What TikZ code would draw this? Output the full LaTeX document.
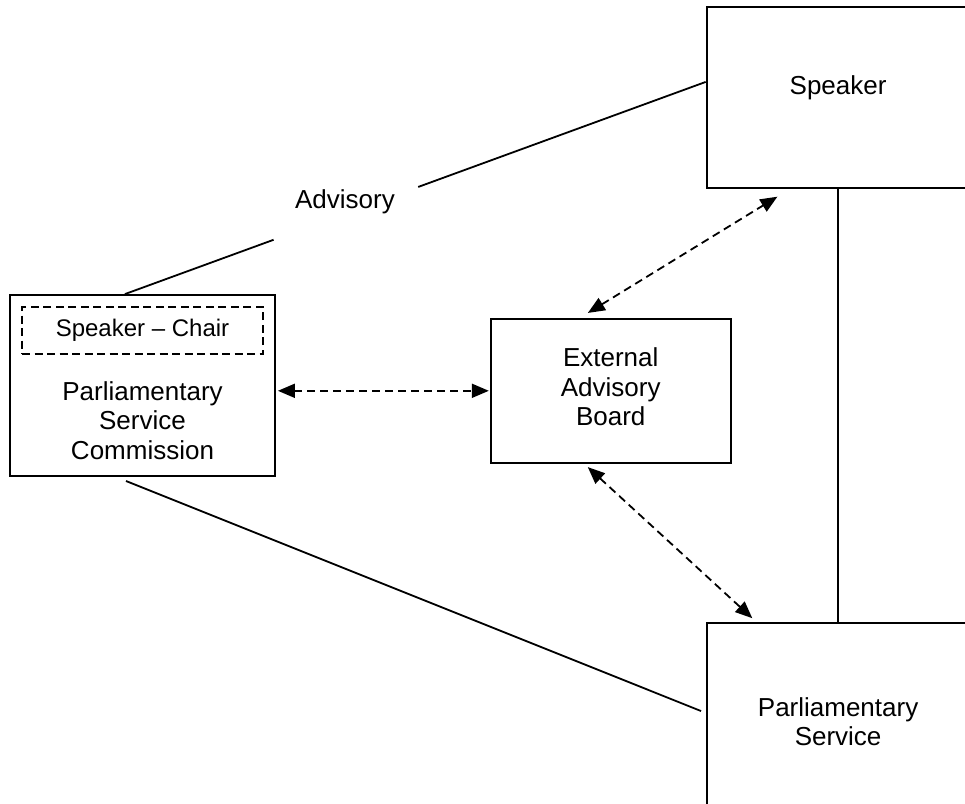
\documentclass[tikz,border=0pt]{standalone}
\usepackage{fontspec}
\setmainfont{Liberation Sans}
\usetikzlibrary{arrows.meta,calc}
\begin{document}
\begin{tikzpicture}[x=1pt,y=-1pt, line width=1.8pt,
  box/.style={draw, rectangle, inner sep=0pt},
  txt/.style={font=\fontsize{26}{29.5}\selectfont, align=center},
  dasharrow/.style={dash pattern=on 8pt off 5pt,
    {Triangle[length=17pt,width=14pt]}-{Triangle[length=17pt,width=14pt]}}]
\useasboundingbox (0,0) rectangle (965,803);
\clip (0,0) rectangle (965,803);

% boxes
\node[box, minimum width=265pt, minimum height=181pt,
  label={[txt, yshift=-35pt]center:Parliamentary\\Service\\Commission}] (psc) at (142.5,385.5) {};
\node[box, dash pattern=on 8pt off 4.5pt, line width=1.6pt, minimum width=241pt, minimum height=47pt,
  font=\fontsize{24}{28}\selectfont] (chair) at (142.5,330.5) {Speaker – Chair};
\node[box, minimum width=240pt, minimum height=144pt,
  label={[txt, yshift=4pt]center:External\\Advisory\\Board}] (eab) at (610.7,390.8) {};
\node[box, minimum width=263pt, minimum height=181.3pt,
  label={[txt, yshift=10pt]center:Speaker}] (sp) at (838.1,97.3) {};
\node[box, txt, minimum width=263pt, minimum height=198.3pt] (ps) at (838.1,721.9) {Parliamentary\\Service};
\node[txt] (adv) at (345,202) {Advisory};

% Advisory line (broken around its label)
\coordinate (advA) at ($(psc.north west)!0.434!(psc.north east)$);
\coordinate (advB) at ($(sp.north west)!0.416!(sp.south west)$);
\coordinate (g1) at ($(advA)!0.256!(advB)$);
\coordinate (g2) at ($(advA)!0.505!(advB)$);
\draw (advA) -- (g1);
\draw (g2) -- (advB);

% PSC to Parliamentary Service
\draw[shorten <=11pt, shorten >=5pt]
  ($(psc.south west)!0.4!(psc.south east)$) -- ($(ps.north west)!0.455!(ps.south west)$);

% Speaker to Parliamentary Service
\draw (sp.south) -- (ps.north);

% dashed double arrows
\draw[dasharrow, shorten <=2pt, shorten >=1pt] (psc.east |- eab.west) -- (eab.west);
\draw[dasharrow, shorten <=9.5pt, shorten >=15pt]
  ($(eab.north west)!0.372!(eab.north east)$) -- ($(sp.south west)!0.319!(sp.south east)$);
\draw[dasharrow, shorten <=5pt, shorten >=5.4pt]
  ($(eab.south west)!0.39!(eab.south east)$) -- ($(ps.north west)!0.191!(ps.north east)$);
\end{tikzpicture}
\end{document}
